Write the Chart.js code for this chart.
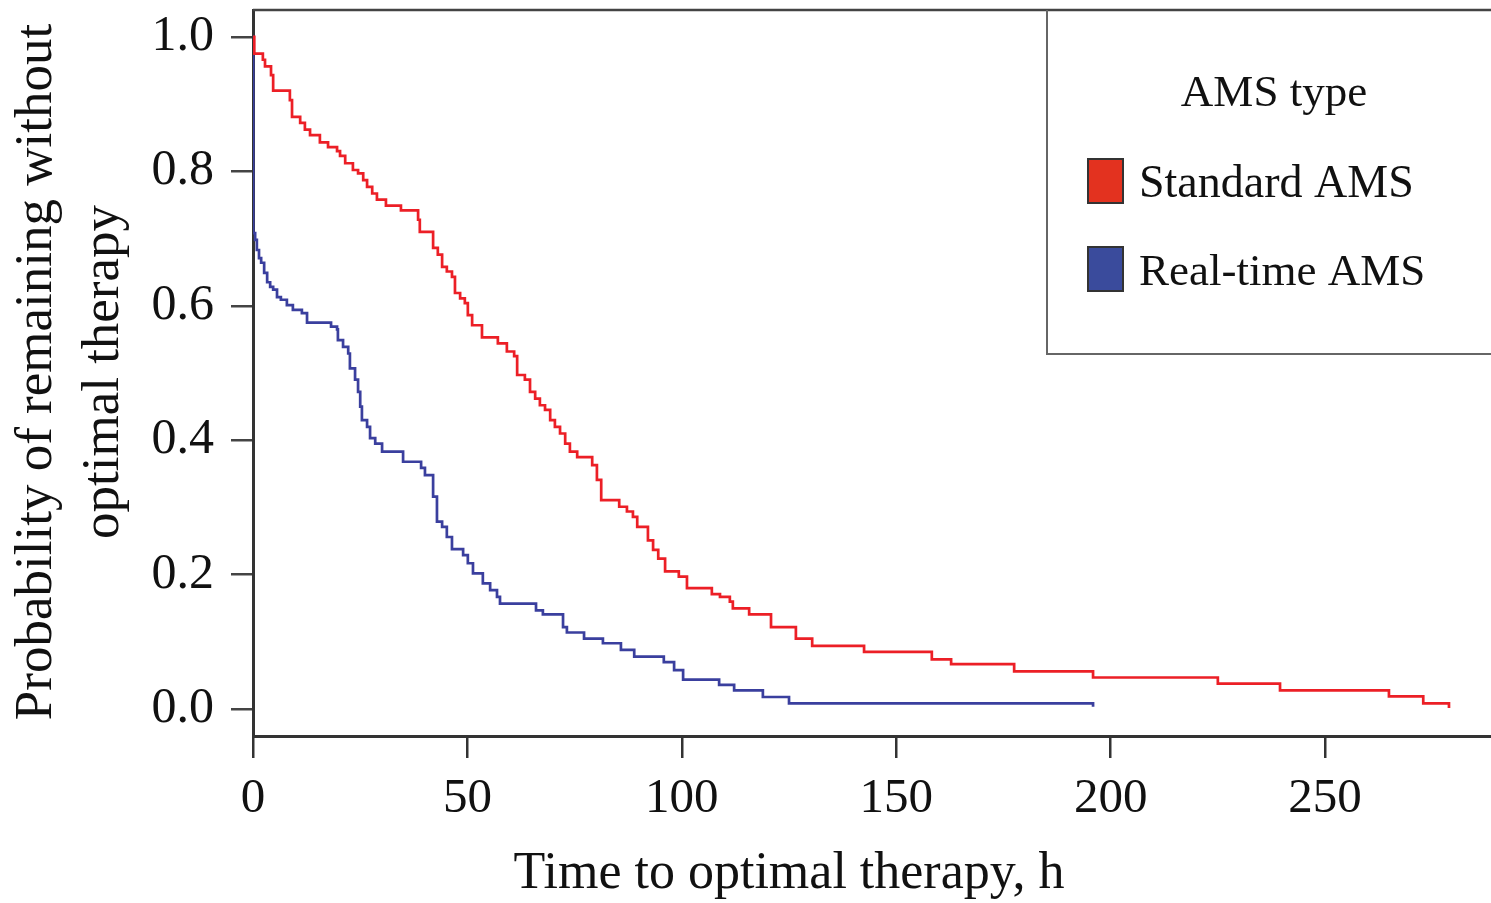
<!DOCTYPE html>
<html>
<head>
<meta charset="utf-8">
<script src="https://cdn.jsdelivr.net/npm/chart.js@4.4.0/dist/chart.umd.min.js"></script>
<style>
  html, body { margin: 0; padding: 0; background: #fff; }
  #wrap { width: 1491px; height: 903px; }
</style>
</head>
<body>
<div id="wrap"><canvas id="kmChart" width="1491" height="903"></canvas></div>
<script>
// Kaplan-Meier steps: time (h) -> probability after the drop
const standardTimes = [0, 0.3, 2.3, 2.8, 4.2, 4.7, 8.6, 9.1, 11.0, 12.1, 13.3, 15.6, 17.5, 19.6, 20.3, 21.5,
  23.3, 24.5, 25.7, 26.6, 27.8, 28.9, 31.0, 34.5, 38.5, 38.9, 42.0, 43.1, 44.1, 45.2, 46.4, 47.1, 48.3, 49.4,
  50.1, 51.1, 53.4, 57.1, 59.2, 60.9, 61.6, 63.4, 64.6, 65.8, 66.9, 68.1, 69.3, 70.4, 71.6, 72.8, 73.9, 75.6,
  79.1, 80.2, 81.2, 85.4, 87.2, 88.6, 89.6, 92.1, 93.3, 94.5, 96.1, 99.3, 101.2, 107.0, 108.9, 111.2, 111.9,
  115.7, 120.8, 126.6, 130.4, 142.5, 158.3, 162.8, 177.5, 195.9, 225.0, 239.5, 264.9, 272.9, 278.9];
const standardSurv = [1.0, 0.975, 0.966, 0.956, 0.943, 0.920, 0.906, 0.881, 0.872, 0.862, 0.854, 0.843, 0.836, 0.830, 0.823, 0.812,
  0.802, 0.797, 0.787, 0.777, 0.767, 0.758, 0.749, 0.742, 0.728, 0.710, 0.686, 0.676, 0.658, 0.651, 0.643, 0.619, 0.611, 0.604,
  0.586, 0.571, 0.553, 0.544, 0.532, 0.525, 0.497, 0.490, 0.472, 0.462, 0.452, 0.445, 0.430, 0.420, 0.410, 0.395, 0.383, 0.375,
  0.363, 0.341, 0.311, 0.301, 0.294, 0.286, 0.271, 0.251, 0.237, 0.224, 0.205, 0.197, 0.180, 0.171, 0.167, 0.160, 0.150,
  0.141, 0.122, 0.105, 0.094, 0.085, 0.074, 0.067, 0.056, 0.047, 0.038, 0.028, 0.019, 0.0085, 0.0015];

const realtimeTimes = [0, 0.05, 0.5, 0.9, 1.4, 1.9, 2.6, 3.3, 4.0, 4.7, 5.6, 6.5, 7.9, 9.3, 11.4, 12.6, 18.2, 19.6,
  19.8, 21.0, 22.2, 22.6, 23.8, 24.5, 25.0, 25.4, 26.6, 27.3, 28.5, 30.1, 35.0, 39.2, 40.1, 42.0, 42.9, 44.1, 45.2,
  46.4, 49.0, 50.1, 51.3, 53.6, 55.3, 56.9, 57.6, 66.0, 67.6, 72.3, 73.2, 77.2, 81.6, 85.8, 88.9, 95.8, 98.2, 100.3,
  108.7, 112.2, 118.9, 125.0, 195.9];
const realtimeSurv = [1.0, 0.708, 0.698, 0.683, 0.671, 0.664, 0.649, 0.635, 0.628, 0.624, 0.613, 0.609, 0.601, 0.594, 0.589, 0.575, 0.569, 0.565,
  0.549, 0.539, 0.529, 0.507, 0.490, 0.472, 0.450, 0.430, 0.420, 0.403, 0.395, 0.383, 0.368, 0.359, 0.348, 0.316, 0.279, 0.271, 0.256,
  0.238, 0.229, 0.217, 0.202, 0.187, 0.177, 0.167, 0.157, 0.147, 0.141, 0.122, 0.114, 0.105, 0.098, 0.088, 0.078, 0.070, 0.058, 0.044,
  0.036, 0.028, 0.018, 0.0085, 0.0034];

const xTicks = [0, 50, 100, 150, 200, 250];
const yTicks = [0, 0.2, 0.4, 0.6, 0.8, 1.0];
const seriesNames = ["Standard AMS", "Real-time AMS"];
const legendTitle = "AMS type";
const xTitle = "Time to optimal therapy, h";
const yTitle = ["Probability of remaining without", "optimal therapy"];

const RED = "#ec1f26";
const BLUE = "#3a3f9e";
const SERIF = "'Liberation Serif', 'DejaVu Serif', serif";

const toPoints = (ts, ss) => ts.map((t, i) => ({ x: t, y: ss[i] }));

const extras = {
  id: "extras",
  afterDraw(chart) {
    const { ctx, chartArea } = chart;
    ctx.save();
    // top frame line
    ctx.strokeStyle = "#444";
    ctx.lineWidth = 2.5;
    ctx.beginPath();
    ctx.moveTo(chartArea.left, chartArea.top);
    ctx.lineTo(chartArea.right, chartArea.top);
    ctx.stroke();

    // legend box
    ctx.strokeStyle = "#666";
    ctx.lineWidth = 2;
    ctx.beginPath();
    ctx.moveTo(1047, chartArea.top);
    ctx.lineTo(1047, 354);
    ctx.lineTo(1491, 354);
    ctx.stroke();

    ctx.fillStyle = "#111";
    ctx.font = "45px " + SERIF;
    ctx.textAlign = "center";
    ctx.textBaseline = "middle";
    ctx.fillText(legendTitle, 1274, 94);

    const swatches = [["#e3321f", 159], ["#3a4b9c", 247]];
    ctx.textAlign = "left";
    swatches.forEach(([col, y], i) => {
      ctx.fillStyle = col;
      ctx.fillRect(1088, y, 35, 44);
      ctx.strokeStyle = "#333";
      ctx.lineWidth = 2;
      ctx.strokeRect(1088, y, 35, 44);
      ctx.fillStyle = "#111";
      ctx.font = (i === 0 ? "46px " : "45px ") + SERIF;
      ctx.fillText(seriesNames[i], 1139, y + 26);
    });

    // axis titles
    ctx.textAlign = "center";
    ctx.font = "52px " + SERIF;
    ctx.fillText(xTitle, 789, 874);
    ctx.font = "53px " + SERIF;
    ctx.translate(0, 372);
    ctx.rotate(-Math.PI / 2);
    ctx.fillText(yTitle[0], 0, 37);
    ctx.fillText(yTitle[1], 0, 104);
    ctx.restore();
  }
};

new Chart(document.getElementById("kmChart"), {
  type: "line",
  data: {
    datasets: [
      { label: seriesNames[0], data: toPoints(standardTimes, standardSurv), borderColor: RED,
        borderWidth: 2.7, stepped: "before", pointRadius: 0, fill: false, order: 0 },
      { label: seriesNames[1], data: toPoints(realtimeTimes, realtimeSurv), borderColor: BLUE,
        borderWidth: 2.7, stepped: "before", pointRadius: 0, fill: false, order: 1 }
    ]
  },
  options: {
    responsive: false,
    animation: false,
    layout: { padding: { top: 10, right: 0, left: 0, bottom: 0 } },
    plugins: { legend: { display: false }, tooltip: { enabled: false } },
    scales: {
      x: {
        type: "linear",
        min: 0,
        max: 288.7,
        afterBuildTicks: s => { s.ticks = xTicks.map(v => ({ value: v })); },
        afterFit: s => { s.height = 167; s.paddingLeft = 0; s.paddingRight = 0; },
        grid: { drawOnChartArea: false, drawTicks: true, tickLength: 22, color: "#333", lineWidth: 2.5 },
        border: { display: true, color: "#333", width: 3 },
        ticks: { color: "#111", padding: 12, maxRotation: 0, font: { family: SERIF, size: 49 } }
      },
      y: {
        type: "linear",
        min: -0.04,
        max: 1.04,
        afterBuildTicks: s => { s.ticks = yTicks.map(v => ({ value: v })); },
        afterFit: s => { s.width = 253; s.paddingTop = 0; s.paddingBottom = 0; },
        grid: { drawOnChartArea: false, drawTicks: true, tickLength: 22, color: "#444", lineWidth: 2.5 },
        border: { display: true, color: "#333", width: 3 },
        ticks: { color: "#111", padding: 17, callback: v => v.toFixed(1), font: { family: SERIF, size: 50 } }
      }
    }
  },
  plugins: [extras]
});
</script>
</body>
</html>
